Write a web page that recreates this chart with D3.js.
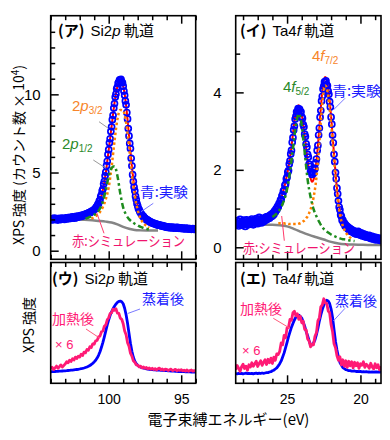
<!DOCTYPE html>
<html><head><meta charset="utf-8">
<script src="https://cdn.jsdelivr.net/npm/d3@7/dist/d3.min.js"></script>
<style>body{margin:0;background:#fff}svg{display:block}</style>
</head><body>
<svg id="c" width="390" height="440"></svg>
<script>
// ---------------- DATA ----------------
// (ア) Si2p experiment (blue open circles), energy grid start/step
const siExpStart = 104, siExpStep = -0.05;
const siExp = [
2.02,1.97,2.05,1.99,2.03,2.08,1.98,2.01,2.06,2.00,1.96,2.04,2.07,2.01,1.99,2.05,2.09,2.02,2.04,2.00,
2.06,2.10,2.03,2.08,2.12,2.05,2.09,2.14,2.07,2.11,2.16,2.10,2.13,2.08,2.15,2.19,2.12,2.17,2.21,2.16,
2.20,2.24,2.19,2.25,2.28,2.23,2.29,2.32,2.27,2.34,2.38,2.35,2.41,2.44,2.42,2.47,2.51,2.49,2.55,2.58,
2.62,2.68,2.70,2.80,2.84,2.96,3.01,3.18,3.25,3.46,3.58,3.82,3.94,4.26,4.44,4.79,5.02,5.44,5.72,6.16,
6.46,6.90,7.16,7.63,7.92,8.38,8.66,9.12,9.41,9.83,10.02,10.35,10.47,10.72,10.78,10.93,10.88,10.96,10.80,10.74,
10.52,10.21,9.94,9.58,9.33,8.84,8.43,7.81,7.34,6.86,6.53,5.91,5.43,4.86,4.43,4.07,3.83,3.49,3.27,3.02,
2.87,2.70,2.63,2.49,2.44,2.33,2.30,2.20,2.19,2.10,2.09,2.02,2.01,1.95,1.96,1.89,1.90,1.83,1.85,1.79,
1.78,1.75,1.77,1.72,1.70,1.72,1.68,1.65,1.67,1.63,1.62,1.64,1.60,1.58,1.61,1.56,1.55,1.57,1.53,1.52,
1.52,1.49,1.53,1.48,1.50,1.46,1.49,1.51,1.47,1.45,1.48,1.50,1.46,1.44,1.47,1.49,1.45,1.43,1.46,1.44,
1.44,1.41,1.45,1.43,1.40,1.42,1.44,1.39,1.41,1.43,1.40,1.38,1.42,1.40,1.37,1.39,1.41,1.38,1.36,1.39,1.38];
// (ア) simulation (red)
const siSimStart = 103.0, siSimStep = -0.2;
const siSim = [2.10,2.12,2.14,2.16,2.19,2.22,2.27,2.33,2.41,2.51,2.63,2.84,3.22,3.90,5.00,6.45,7.95,9.45,10.5,10.95,
10.55,9.3,7.35,5.4,3.85,2.88,2.4,2.15,2.0,1.88,1.79,1.71,1.65,1.6,1.56,1.52,1.5,1.48,1.46,1.45,1.44];
// (ア) 2p3/2 component (orange)
const siP32Start = 101.2, siP32Step = -0.2;
const siP32 = [2.05,2.15,2.28,2.48,2.8,3.3,4.05,5.35,7.0,8.4,9.0,8.95,8.2,6.7,4.9,3.5,2.6,2.05,1.75,1.58,1.48];
// (ア) 2p1/2 component (green)
const siP12Start = 101.6, siP12Step = -0.2;
const siP12 = [2.05,2.12,2.2,2.3,2.45,2.7,3.15,3.9,4.75,5.3,5.4,4.8,3.65,2.75,2.3,2.02,1.85,1.72,1.62,1.52,1.45,1.4,1.35];
// (ア) background (grey)
const siBgStart = 102.6, siBgStep = -0.4;
const siBg = [2.0,2.0,1.98,1.96,1.93,1.9,1.86,1.8,1.68,1.52,1.4,1.32,1.3,1.29,1.29,1.29];

// (イ) Ta4f experiment
const taExpStart = 28.5, taExpStep = -0.05;
const taExp = [
0.64,0.58,0.69,0.61,0.55,0.66,0.72,0.60,0.57,0.67,0.63,0.70,0.59,0.54,0.65,0.71,0.62,0.58,0.68,0.64,
0.60,0.69,0.73,0.63,0.58,0.70,0.66,0.62,0.74,0.68,0.61,0.72,0.77,0.65,0.69,0.63,0.75,0.71,0.66,0.74,
0.70,0.78,0.71,0.79,0.74,0.80,0.75,0.83,0.79,0.86,0.81,0.89,0.85,0.94,0.91,0.99,0.97,1.06,1.04,1.13,
1.14,1.22,1.24,1.33,1.36,1.45,1.48,1.60,1.63,1.77,1.81,1.94,1.98,2.15,2.23,2.41,2.50,2.71,2.83,3.03,
3.13,3.31,3.38,3.50,3.49,3.58,3.53,3.57,3.49,3.50,3.37,3.33,3.17,3.11,2.92,2.86,2.67,2.59,2.40,2.33,
2.15,2.09,1.96,1.95,1.88,1.92,1.91,2.00,2.03,2.18,2.28,2.50,2.63,2.90,3.08,3.36,3.53,3.78,3.90,4.09,
4.16,4.27,4.25,4.30,4.20,4.17,4.03,3.95,3.76,3.62,3.36,3.18,2.90,2.70,2.40,2.21,1.93,1.77,1.53,1.38,
1.20,1.04,0.97,0.84,0.80,0.70,0.70,0.62,0.63,0.55,0.58,0.51,0.54,0.47,0.51,0.44,0.48,0.41,0.46,0.40,
0.43,0.37,0.42,0.35,0.40,0.34,0.38,0.41,0.33,0.36,0.31,0.37,0.34,0.29,0.35,0.32,0.27,0.33,0.30,0.26,
0.29,0.25,0.31,0.24,0.27,0.22,0.28,0.25,0.21,0.26,0.23,0.19,0.25,0.22,0.20,0.24,0.18,0.22,0.21];
const taSimStart = 26.5, taSimStep = -0.1;
const taSim = [0.72,0.74,0.76,0.78,0.80,0.83,0.87,0.92,0.99,1.07,
1.17,1.28,1.40,1.54,1.70,1.88,2.08,2.32,2.60,2.92,
3.25,3.50,3.63,3.67,3.60,3.43,3.18,2.88,2.56,2.25,
1.98,1.78,1.69,1.74,1.92,2.22,2.62,3.10,3.60,4.02,
4.30,4.40,4.33,4.12,3.80,3.38,2.90,2.40,1.93,1.52,
1.20,0.96,0.80,0.68,0.60,0.54,0.50,0.46,0.43,0.41,
0.39,0.37,0.35,0.34,0.33,0.32];
const taF72Start = 25.6, taF72Step = -0.1;
const taF72 = [0.62,0.62,0.62,0.62,0.62,0.61,0.61,0.6,0.6,0.6,
0.6,0.6,0.6,0.6,0.61,0.62,0.64,0.67,0.7,0.75,
0.8,0.88,0.98,1.1,1.28,1.5,1.8,2.2,2.7,3.25,
3.72,4.05,4.18,4.12,3.92,3.6,3.2,2.75,2.28,1.82,
1.42,1.1,0.86,0.68,0.55,0.46,0.38,0.33,0.28,0.25,0.22];
const taF52Start = 26.0, taF52Step = -0.2;
const taF52 = [0.78,0.84,0.92,1.04,1.22,1.5,1.95,2.55,3.15,3.45,3.15,2.45,1.75,1.3,0.99,0.8,0.65,0.52,0.44,0.38,0.33,0.29,0.26,0.23,0.21,0.2,0.18,0.17,0.16];
const taBgStart = 27.0, taBgStep = -0.5;
const taBg = [0.58,0.58,0.58,0.57,0.54,0.47,0.39,0.32,0.26,0.2,0.14,0.1,0.08,0.07,0.065,0.06,0.06,0.06];

// (ウ) Si2p after deposition (blue) / after heating x6 (pink)
const siBStart = 104, siBStep = -0.1;
const siDep = [1.15,1.16,1.17,1.18,1.19,1.2,1.21,1.22,1.23,1.24,
1.25,1.26,1.28,1.29,1.31,1.32,1.34,1.36,1.38,1.4,
1.43,1.46,1.49,1.53,1.58,1.63,1.7,1.78,1.88,2.0,
2.14,2.3,2.52,2.8,3.15,3.6,4.1,4.65,5.25,5.85,
6.35,6.8,7.15,7.45,7.7,7.92,8.1,8.2,8.22,8.15,
7.95,7.5,6.85,6.0,5.0,4.0,3.2,2.6,2.2,1.95,
1.8,1.7,1.62,1.56,1.52,1.48,1.45,1.42,1.4,1.38,
1.36,1.35,1.34,1.33,1.32,1.31,1.3,1.29,1.28,1.27,
1.26,1.25,1.24,1.23,1.22,1.21,1.2,1.19,1.18,1.17,
1.17,1.16,1.16,1.15,1.15,1.14,1.14,1.13,1.13,1.12,1.12];
const siHeat = [1.45,1.60,1.38,1.55,1.72,1.50,1.66,1.84,1.62,1.78,
1.92,2.15,2.05,2.31,2.18,2.45,2.33,2.62,2.48,2.70,
2.62,2.91,2.78,3.12,3.05,3.38,3.30,3.66,3.58,3.95,
3.92,4.25,4.28,4.66,4.72,5.15,5.22,5.71,5.84,6.35,
6.55,6.98,7.05,7.42,7.30,7.45,7.02,7.00,6.52,6.40,
5.95,5.22,4.85,4.05,3.70,3.02,2.72,2.25,2.10,1.84,
1.82,1.64,1.72,1.55,1.63,1.49,1.58,1.44,1.53,1.40,
1.50,1.38,1.47,1.33,1.45,1.52,1.36,1.44,1.30,1.41,
1.39,1.28,1.35,1.42,1.27,1.33,1.40,1.26,1.34,1.29,
1.36,1.25,1.31,1.22,1.34,1.19,1.28,1.33,1.21,1.27,1.24];
// (エ) Ta4f
const taBStart = 28.5, taBStep = -0.1;
const taDep = [0.98,0.95,1.00,0.96,0.99,0.94,0.98,1.01,0.96,0.99,
0.97,1.00,0.95,0.99,1.02,0.97,1.01,0.98,1.03,1.00,
1.03,1.06,1.07,1.13,1.16,1.25,1.31,1.43,1.54,1.74,
1.96,2.24,2.63,3.04,3.56,4.09,4.66,5.14,5.61,5.99,
6.33,6.62,6.74,6.81,6.70,6.52,6.13,5.72,5.18,4.77,
4.27,3.86,3.84,4.02,4.33,4.87,5.48,6.22,6.83,7.37,
7.80,8.17,8.31,8.24,7.98,7.42,6.58,5.37,4.18,3.32,
2.62,2.08,1.82,1.58,1.48,1.36,1.33,1.26,1.26,1.22,
1.21,1.23,1.18,1.20,1.16,1.19,1.15,1.17,1.14,1.16,
1.13,1.15,1.12,1.14,1.11,1.13,1.15,1.12,1.14,1.13];
const taHeat = [1.35,1.78,1.52,1.20,1.66,1.90,1.48,1.72,1.30,1.85,
1.62,2.05,1.70,1.95,2.20,1.68,1.98,2.25,1.80,2.10,
2.35,1.88,2.40,2.05,2.52,1.98,2.62,2.30,2.95,2.88,
3.20,4.05,3.85,4.80,4.55,5.55,5.60,6.40,6.30,7.05,
7.20,6.75,6.95,6.40,6.70,6.05,6.20,5.40,5.35,4.45,
4.25,3.65,3.90,3.85,4.70,5.05,6.25,6.55,7.65,7.85,
8.45,8.05,8.00,7.25,7.05,5.85,5.15,3.95,3.55,2.75,
2.30,2.65,1.85,2.35,1.70,2.25,1.60,2.20,1.75,2.15,
1.55,2.10,1.75,2.05,1.50,1.95,1.80,2.15,1.60,1.90,
1.75,1.50,2.00,1.65,1.45,1.95,1.55,1.85,1.35,1.70];

// ticks / labels
const siMajor = [100, 95], taMajor = [25, 20];
const siMinor = [104,103,102,101,99,98,97,96,94];
const taMinor = [28,27,26,24,23,22,21,19];
const siYMajor = [0,5,10], siYMinor = [1,2,3,4,6,7,8,9,11,12,13,14];
const taYMajor = [0,2,4], taYMinor = [1,3,5];

// ---------------- DRAW ----------------
const svg = d3.select("#c");
const JP = '"Noto Sans CJK JP","Noto Sans",sans-serif';
const NUM = '"Liberation Sans",Arial,sans-serif';
const BLUE="#0000ff", RED="#ff0000", ORANGE="#ff8000", GREEN="#1e8c1e", GREY="#858585", PINK="#ff1a75";
const TBLUE="#1a1aff", TRED="#f0146e", TORANGE="#f7852a", TGREEN="#2a8a2a";

const PL={x0:50.7,x1:195.7}, PR={x0:235.7,x1:381};
const PT={y0:15.7,y1:259.3}, PB={y0:262.5,y1:383.3};

const xSi = d3.scaleLinear().domain([104,94]).range([PL.x0,PL.x1]);
const xTa = d3.scaleLinear().domain([28.5,18.6]).range([PR.x0,PR.x1]);
const ySi = d3.scaleLinear().domain([-0.55,15.03]).range([PT.y1,PT.y0]);
const yTa = d3.scaleLinear().domain([-0.31,5.98]).range([PT.y1,PT.y0]);
const yB  = d3.scaleLinear().domain([0,12.08]).range([PB.y1,PB.y0]);

const ser = (start, step, vals) => vals.map((v,i)=>[start+step*i, v]);

function clipG(px, py, id){
  svg.append("clipPath").attr("id",id).append("rect")
    .attr("x",px.x0).attr("y",py.y0).attr("width",px.x1-px.x0).attr("height",py.y1-py.y0);
  return svg.append("g").attr("clip-path",`url(#${id})`);
}
function path(g, data, x, y, color, w, dash, curve){
  g.append("path").datum(data)
   .attr("d", d3.line().x(d=>x(d[0])).y(d=>y(d[1])).curve(curve||d3.curveLinear))
   .attr("fill","none").attr("stroke",color).attr("stroke-width",w)
   .attr("stroke-dasharray",dash||null).attr("stroke-linejoin","round");
}
function circles(g, data, x, y){
  g.selectAll(null).data(data).enter().append("circle")
   .attr("cx",d=>x(d[0])).attr("cy",d=>y(d[1])).attr("r",3)
   .attr("fill","none").attr("stroke",BLUE).attr("stroke-width",1.7);
}

// top-left panel (ア)
const gA = clipG(PL, PT, "cA");
path(gA, ser(siBgStart, siBgStep, siBg), xSi, ySi, GREY, 2.5, null, d3.curveMonotoneX);
path(gA, ser(siSimStart, siSimStep, siSim), xSi, ySi, RED, 2, null, d3.curveMonotoneX);
circles(gA, ser(siExpStart, siExpStep, siExp), xSi, ySi);
path(gA, ser(siP32Start, siP32Step, siP32), xSi, ySi, ORANGE, 2.5, "2.5,2.5", d3.curveMonotoneX);
path(gA, ser(siP12Start, siP12Step, siP12), xSi, ySi, GREEN, 2.5, "6,3,2.5,3", d3.curveMonotoneX);

// top-right panel (イ)
const gB = clipG(PR, PT, "cB");
path(gB, ser(taBgStart, taBgStep, taBg), xTa, yTa, GREY, 2.5, null, d3.curveMonotoneX);
path(gB, ser(taSimStart, taSimStep, taSim), xTa, yTa, RED, 2, null, d3.curveMonotoneX);
circles(gB, ser(taExpStart, taExpStep, taExp), xTa, yTa);
path(gB, ser(taF72Start, taF72Step, taF72), xTa, yTa, ORANGE, 2.5, "2.5,2.5", d3.curveMonotoneX);
path(gB, ser(taF52Start, taF52Step, taF52), xTa, yTa, GREEN, 2.5, "6,3,2.5,3", d3.curveMonotoneX);

// bottom-left (ウ)
const gC = clipG(PL, PB, "cC");
path(gC, ser(siBStart, siBStep, siDep), xSi, yB, BLUE, 2.8);
path(gC, ser(siBStart, siBStep, siHeat), xSi, yB, PINK, 2.8);
// bottom-right (エ)
const gD = clipG(PR, PB, "cD");
path(gD, ser(taBStart, taBStep, taDep), xTa, yB, BLUE, 2.8);
path(gD, ser(taBStart, taBStep, taHeat), xTa, yB, PINK, 2.8);

// axes
function styleAxis(g, fs, keepText){
  g.select(".domain").remove();
  g.selectAll(".tick line").attr("stroke","#000").attr("stroke-width",1.5);
  if (!keepText) g.selectAll("text").remove();
  else g.selectAll("text").style("font-family",NUM).style("font-size",fs+"px").attr("fill","#000");
  return g;
}
function xAxes(x, py, major, minor, labels){
  styleAxis(svg.append("g").attr("transform",`translate(0,${py.y1})`)
    .call(d3.axisBottom(x).tickValues(minor).tickSize(-4.5)));
  styleAxis(svg.append("g").attr("transform",`translate(0,${py.y1})`)
    .call(d3.axisBottom(x).tickValues(major).tickSize(-8).tickPadding(11).tickFormat(d3.format("d"))), 14, labels);
  styleAxis(svg.append("g").attr("transform",`translate(0,${py.y0})`)
    .call(d3.axisTop(x).tickValues(minor).tickSize(-4.5)));
  styleAxis(svg.append("g").attr("transform",`translate(0,${py.y0})`)
    .call(d3.axisTop(x).tickValues(major).tickSize(-8)));
}
function yAxes(y, px, major, minor, pad){
  styleAxis(svg.append("g").attr("transform",`translate(${px.x0},0)`)
    .call(d3.axisLeft(y).tickValues(minor).tickSize(-4.5)));
  styleAxis(svg.append("g").attr("transform",`translate(${px.x0},0)`)
    .call(d3.axisLeft(y).tickValues(major).tickSize(-8).tickPadding(pad).tickFormat(d3.format("d"))), 15, true);
}
xAxes(xSi, PT, siMajor, siMinor, false);
xAxes(xTa, PT, taMajor, taMinor, false);
xAxes(xSi, PB, siMajor, siMinor, true);
xAxes(xTa, PB, taMajor, taMinor, true);
yAxes(ySi, PL, siYMajor, siYMinor, 10);
yAxes(yTa, PR, taYMajor, taYMinor, 14);

// frames
[[PL,PT],[PR,PT],[PL,PB],[PR,PB]].forEach(([px,py])=>{
  svg.append("rect").attr("x",px.x0).attr("y",py.y0).attr("width",px.x1-px.x0).attr("height",py.y1-py.y0)
    .attr("fill","none").attr("stroke","#000").attr("stroke-width",1.6);
});

// text helpers
function T(x,y,color,size,family){
  return svg.append("text").attr("x",x).attr("y",y).attr("fill",color)
    .style("font-family",family||JP).style("font-size",size+"px");
}
function L(x1,y1,x2,y2,color,w){
  svg.append("line").attr("x1",x1).attr("y1",y1).attr("x2",x2).attr("y2",y2)
    .attr("stroke",color).attr("stroke-width",w||1);
}
function title(x,y,label,el,orb){
  const t = T(x,y,"#000",15);
  t.append("tspan").style("font-weight","bold").text(label);
  t.append("tspan").attr("dx",2).style("font-family",NUM).text(" "+el);
  t.append("tspan").style("font-family",NUM).style("font-style","italic").text(orb);
  t.append("tspan").text(" 軌道");
}
title(58,35.5,"(ア)","Si2","p");
title(240,35.5,"(イ)","Ta4","f");
title(52,284,"(ウ)","Si2","p");
title(240,284,"(エ)","Ta4","f");

function comp(x,y,color,a,b,sub){
  const t = T(x,y,color,15,NUM);
  t.append("tspan").text(a);
  t.append("tspan").style("font-style","italic").text(b);
  t.append("tspan").attr("dy",3).style("font-size","10px").text(sub);
}
comp(72,111,TORANGE,"2","p","3/2");
comp(62,149,TGREEN,"2","p","1/2");
comp(312,61,TORANGE,"4","f","7/2");
comp(283,92,TGREEN,"4","f","5/2");

T(140,197,TBLUE,14).attr("textLength",48).attr("lengthAdjust","spacingAndGlyphs").text("青:実験");
T(332,95.5,TBLUE,14).attr("textLength",49).attr("lengthAdjust","spacingAndGlyphs").text("青:実験");
T(72,245.5,TRED,14).attr("textLength",113).attr("lengthAdjust","spacingAndGlyphs").text("赤:シミュレーション");
T(243,252.5,TRED,14).attr("textLength",112).attr("lengthAdjust","spacingAndGlyphs").text("赤:シミュレーション");

T(142,304,TBLUE,14).text("蒸着後");
T(52,324,PINK,14).text("加熱後");
T(55,349,PINK,13,NUM).text("× 6");
T(335,305.5,TBLUE,14).text("蒸着後");
T(240,314,PINK,14).text("加熱後");
T(242,355,PINK,13,NUM).text("× 6");

// leader lines
L(99,121.7,108.3,128.3,"#999");
L(93.3,160,106,168.3,"#999");
L(153.3,203.3,141,211.7,"#7a7aff");
L(96.7,212.7,104,233.3,"#ff3a6a");
L(345,98.3,333.3,110,"#7a7aff");
L(281.7,216,284.3,240.7,"#ff3a6a");
L(140,309,127.7,313.5,"#7a7aff");
L(86,329,100,338.3,"#ff5a7a");
L(345,308.3,333.3,321,"#7a7aff");
L(273.3,318.3,290,328.3,"#ff5a7a");

// axis titles
const yl = svg.append("text").attr("transform","translate(24,155) rotate(-90)")
  .attr("text-anchor","middle").style("font-family",JP).style("font-size","14px").attr("fill","#000");
yl.append("tspan").text("XPS 強度 (カウント数 × 10");
yl.append("tspan").attr("dy",-5).style("font-size","10px").text("4");
yl.append("tspan").attr("dy",5).text(")");
svg.append("text").attr("transform","translate(34,325) rotate(-90)")
  .attr("text-anchor","middle").style("font-family",JP).style("font-size","14px").attr("fill","#000").text("XPS 強度");
svg.append("text").attr("x",228.5).attr("y",425).attr("text-anchor","middle")
  .style("font-family",JP).style("font-size","15px").attr("fill","#000").text("電子束縛エネルギー(eV)");
</script>
</body></html>
